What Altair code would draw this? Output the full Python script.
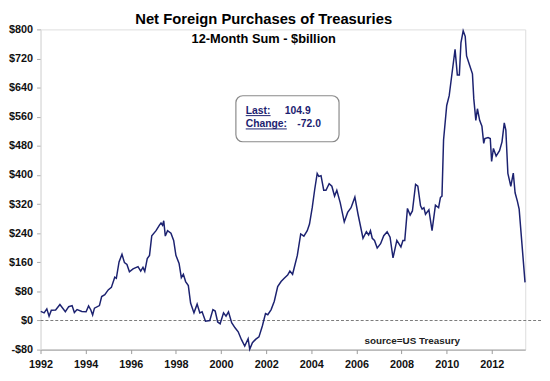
import altair as alt
import pandas as pd

# ---- data ----
years = [1992.01, 1992.16, 1992.28, 1992.38, 1992.48, 1992.67, 1992.86, 1993.10, 1993.25, 1993.40,
         1993.50, 1993.62, 1993.83, 1994.02, 1994.13, 1994.23, 1994.31, 1994.39, 1994.61, 1994.71,
         1994.85, 1995.00, 1995.14, 1995.29, 1995.36, 1995.48, 1995.61, 1995.72, 1995.83, 1995.94,
         1996.10, 1996.32, 1996.44, 1996.54, 1996.62, 1996.73, 1996.83, 1996.93, 1997.12, 1997.27,
         1997.34, 1997.41, 1997.46, 1997.53, 1997.63, 1997.78, 1997.90, 1998.00, 1998.14, 1998.24,
         1998.33, 1998.43, 1998.55, 1998.65, 1998.80, 1998.94, 1999.06, 1999.16, 1999.31, 1999.50,
         1999.64, 1999.74, 1999.85, 1999.96, 2000.11, 2000.22, 2000.33, 2000.47, 2000.62, 2000.76,
         2000.90, 2001.05, 2001.20, 2001.27, 2001.39, 2001.53, 2001.68, 2001.83, 2001.97, 2002.07,
         2002.22, 2002.36, 2002.51, 2002.66, 2002.80, 2002.95, 2003.05, 2003.17, 2003.38, 2003.53,
         2003.67, 2003.82, 2003.92, 2004.04, 2004.15, 2004.26, 2004.33, 2004.43, 2004.55, 2004.65,
         2004.79, 2004.91, 2005.03, 2005.13, 2005.28, 2005.46, 2005.61, 2005.76, 2005.93, 2006.07,
         2006.29, 2006.44, 2006.54, 2006.62, 2006.70, 2006.80, 2006.92, 2007.07, 2007.21, 2007.36,
         2007.49, 2007.62, 2007.79, 2007.97, 2008.06, 2008.14, 2008.26, 2008.38, 2008.48, 2008.62,
         2008.72, 2008.84, 2008.91, 2008.99, 2009.06, 2009.21, 2009.35, 2009.50, 2009.64, 2009.72,
         2009.79, 2009.86, 2010.00, 2010.11, 2010.22, 2010.37, 2010.47, 2010.56, 2010.63, 2010.73,
         2010.82, 2010.88, 2011.00, 2011.14, 2011.20, 2011.29, 2011.36, 2011.46, 2011.56, 2011.64,
         2011.69, 2011.83, 2011.93, 2011.99, 2012.07, 2012.19, 2012.34, 2012.45, 2012.55, 2012.62,
         2012.71, 2012.84, 2012.95, 2013.03, 2013.13, 2013.21, 2013.47]
values = [25, 21, 32, 12, 28, 29, 44, 24, 38, 41,
          22, 30, 25, 24, 40, 29, 15, 34, 41, 66,
          71, 84, 91, 119, 116, 161, 182, 159, 154, 134,
          142, 148, 136, 146, 135, 170, 179, 233, 247, 262,
          268, 262, 274, 232, 247, 240, 220, 179, 157, 118,
          127, 107, 96, 48, 21, 45, 21, 24, -2, 0,
          30, 26, -4, -9, 21, 12, 24, -6, -20, -31,
          -52, -70, -50, -79, -61, -52, -45, -15, 19, 16,
          30, 53, 93, 107, 116, 125, 136, 127, 179, 238,
          232, 247, 265, 310, 360, 404, 396, 398, 358, 358,
          376, 369, 342, 358, 324, 271, 297, 310, 339, 292,
          226, 244, 235, 247, 226, 220, 199, 211, 233, 244,
          229, 172, 220, 202, 220, 220, 308, 290, 301, 374,
          369, 315, 306, 310, 292, 304, 247, 317, 310, 338,
          342, 496, 591, 618, 672, 745, 675, 675, 763, 796,
          781, 727, 704, 678, 609, 550, 582, 550, 534, 487,
          500, 503, 500, 437, 473, 452, 467, 491, 543, 523,
          404, 369, 405, 351, 328, 306, 104.9]

y_ticks = list(range(-80, 801, 80))
x_ticks = list(range(1992, 2013, 2))
zero_level = [0]
title_text = "Net Foreign Purchases of Treasuries"
subtitle_text = "12-Month Sum - $billion"
last_label = "Last:"
change_label = "Change:"
last_value = 104.9
change_value = -72.0
source_text = "source=US Treasury"

df = pd.DataFrame({"year": years, "value": values})
zero_df = pd.DataFrame({"value": zero_level})
one = pd.DataFrame({"k": [0]})

W, H = 492, 325
FONT = "Liberation Sans"
NAVY = "#1c2270"

x = alt.X("year:Q",
          scale=alt.Scale(domain=[1992, 2013.48], nice=False, zero=False),
          axis=alt.Axis(values=x_ticks, format="d", title=None, grid=False,
                        domainColor="#9a9a9a", tickColor="#9a9a9a", tickSize=4,
                        labelFont=FONT, labelFontSize=11, labelFontWeight="bold",
                        labelColor="#111111", labelPadding=5, labelFlush=False,
                        labelOverlap=False))
y = alt.Y("value:Q",
          scale=alt.Scale(domain=[-80, 800], nice=False, zero=False),
          axis=alt.Axis(values=y_ticks, title=None, grid=False,
                        labelExpr="datum.value < 0 ? '-$' + abs(datum.value) : '$' + datum.value",
                        domainColor="#dddddd", tickColor="#aaaaaa", tickSize=4,
                        labelFont=FONT, labelFontSize=11, labelFontWeight="bold",
                        labelColor="#111111", labelPadding=4, labelOverlap=False,
                        labelFlush=False))

zero = alt.Chart(zero_df).mark_rule(color="#7a7a7a", strokeDash=[3, 2], strokeWidth=1).encode(
    x=alt.value(0), x2=alt.value(W + 17), y=y)

line = alt.Chart(df).mark_line(color=NAVY, strokeWidth=1.5).encode(x=x, y=y)


def txt(text, xpos, ypos, size, align="left", color=NAVY, weight="bold"):
    return alt.Chart(one).mark_text(
        text=text, font=FONT, fontSize=size, fontWeight=weight, align=align,
        baseline="alphabetic", color=color).encode(x=alt.value(xpos), y=alt.value(ypos))


title = txt(title_text, 226.5, -5.5, 15, align="center", color="#000000")
subtitle = txt(subtitle_text, 226.5, 13.7, 13, align="center", color="#000000")

box = alt.Chart(one).mark_rect(cornerRadius=7, fill="white", stroke="#8a8a8a", strokeWidth=1.2).encode(
    x=alt.value(198.3), x2=alt.value(303), y=alt.value(67.3), y2=alt.value(114))

t_last = txt(last_label, 208.3, 85.5, 10.5)
t_last_v = txt(f"{last_value:.1f}", 248, 85.5, 10.5)
t_change = txt(change_label, 208.3, 99, 10.5)
t_change_v = txt(f"{change_value:.1f}", 260.7, 99, 10.5)

ul1 = alt.Chart(one).mark_rule(color=NAVY, strokeWidth=1).encode(
    x=alt.value(208.3), x2=alt.value(233.5), y=alt.value(87.5))
ul2 = alt.Chart(one).mark_rule(color=NAVY, strokeWidth=1).encode(
    x=alt.value(208.3), x2=alt.value(250), y=alt.value(101))

source = txt(source_text, 377.3, 319.7, 10, align="center", color="#222222")

chart = alt.layer(zero, line, box, t_last, t_last_v, t_change, t_change_v, ul1, ul2,
                  source, title, subtitle).properties(
    width=W, height=H,
    autosize=alt.AutoSizeParams(type="none"),
    padding={"left": 33, "top": 19, "right": 17, "bottom": 21},
).configure_view(stroke=None).configure_axis(labelOverlap=False).configure(background="white")

chart.save("out.html", embed_options={"renderer": "svg", "actions": False})
